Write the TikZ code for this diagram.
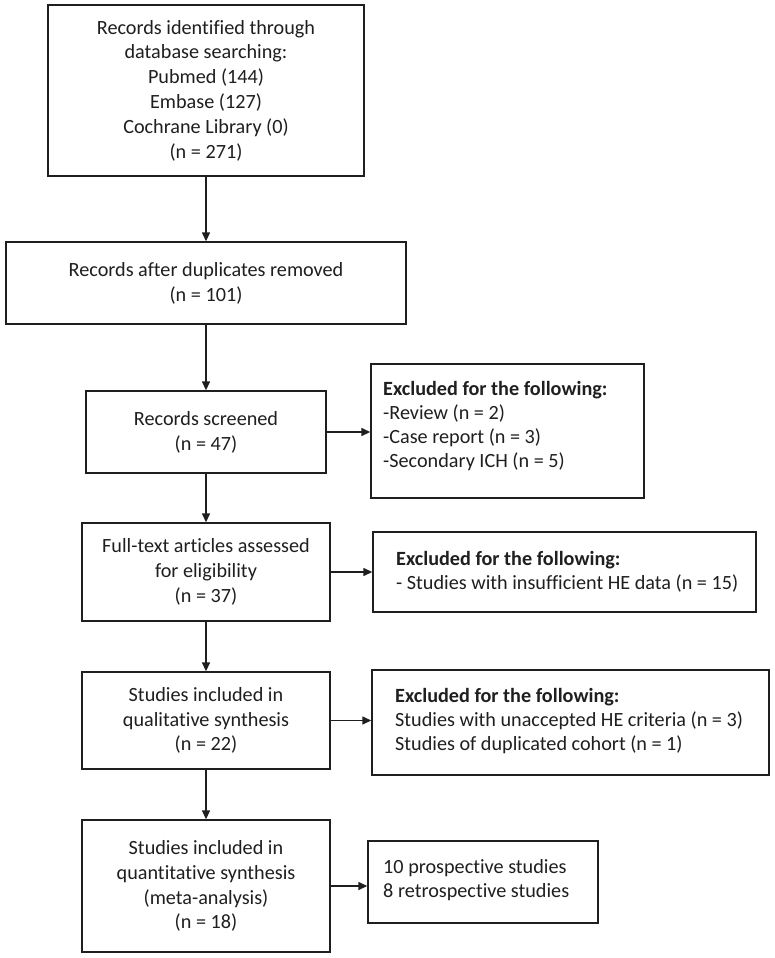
\documentclass[tikz,border=0pt]{standalone}
\usepackage{fontspec}
\setmainfont[Ligatures=NoCommon]{Carlito}
\usetikzlibrary{arrows.meta}
\begin{document}
\begin{tikzpicture}[x=1pt,y=-1pt,
  box/.style={draw=black!88, line width=1.4pt, rectangle, inner sep=0pt, align=center,
    font=\fontsize{20.2}{24.8}\selectfont, text=black!88},
  txt/.style={anchor=west, inner sep=0pt, align=left,
    font=\fontsize{20.2}{24}\selectfont, text=black!88},
  arr/.style={line width=1.4pt, draw=black!88, -{Triangle[length=9pt,width=8pt]}}]
\useasboundingbox (0,0) rectangle (775,958);
\fill[white] (0,0) rectangle (775,958);

% main column
\node[box, minimum width=316pt, minimum height=171pt] (b1) at (206,90.5)
  {Records identified through\\database searching:\\Pubmed (144)\\Embase (127)\\Cochrane Library (0)\\(n = 271)};
\node[box, minimum width=400pt, minimum height=82pt] (b2) at (206,283)
  {Records after duplicates removed\\(n = 101)};
\node[box, minimum width=240pt, minimum height=82pt] (b3) at (206,432)
  {Records screened\\(n = 47)};
\node[box, minimum width=248pt, minimum height=98pt] (b4) at (206,572)
  {Full-text articles assessed\\for eligibility\\(n = 37)};
\node[box, minimum width=248pt, minimum height=97pt] (b5) at (206,720.5)
  {Studies included in\\qualitative synthesis\\(n = 22)};
\node[box, minimum width=248pt, minimum height=132pt] (b6) at (206,886)
  {Studies included in\\quantitative synthesis\\(meta-analysis)\\(n = 18)};

% side boxes
\node[box, minimum width=273pt, minimum height=134pt] (e1) at (507.5,431) {};
\node[txt] (t1) at (383,426)
  {\textbf{Excluded for the following:}\\-Review (n = 2)\\-Case report (n = 3)\\-Secondary ICH (n = 5)};
\node[box, minimum width=383pt, minimum height=80pt] (e2) at (564.5,572) {};
\node[txt] (t2) at (396,572)
  {\textbf{Excluded for the following:}\\- Studies with insufficient HE data (n = 15)};
\node[box, minimum width=397pt, minimum height=105pt] (e3) at (570.5,722.5) {};
\node[txt] (t3) at (395,721)
  {\textbf{Excluded for the following:}\\Studies with unaccepted HE criteria (n = 3)\\Studies of duplicated cohort (n = 1)};
\node[box, minimum width=230pt, minimum height=82pt] (e4) at (483,882) {};
\node[txt] (t4) at (383,880)
  {10 prospective studies\\8 retrospective studies};

% vertical arrows
\draw[arr] (b1.south) -- (b2.north);
\draw[arr] (b2.south) -- (b3.north);
\draw[arr] (b3.south) -- (b4.north);
\draw[arr] (b4.south) -- (b5.north);
\draw[arr] (b5.south) -- (b6.north);

% horizontal arrows
\draw[arr] (b3.east) -- (b3.east -| e1.west);
\draw[arr] (b4.east) -- (b4.east -| e2.west);
\draw[arr] (b5.east) -- (b5.east -| e3.west);
\draw[arr] (b6.east) -- (b6.east -| e4.west);
\end{tikzpicture}
\end{document}
